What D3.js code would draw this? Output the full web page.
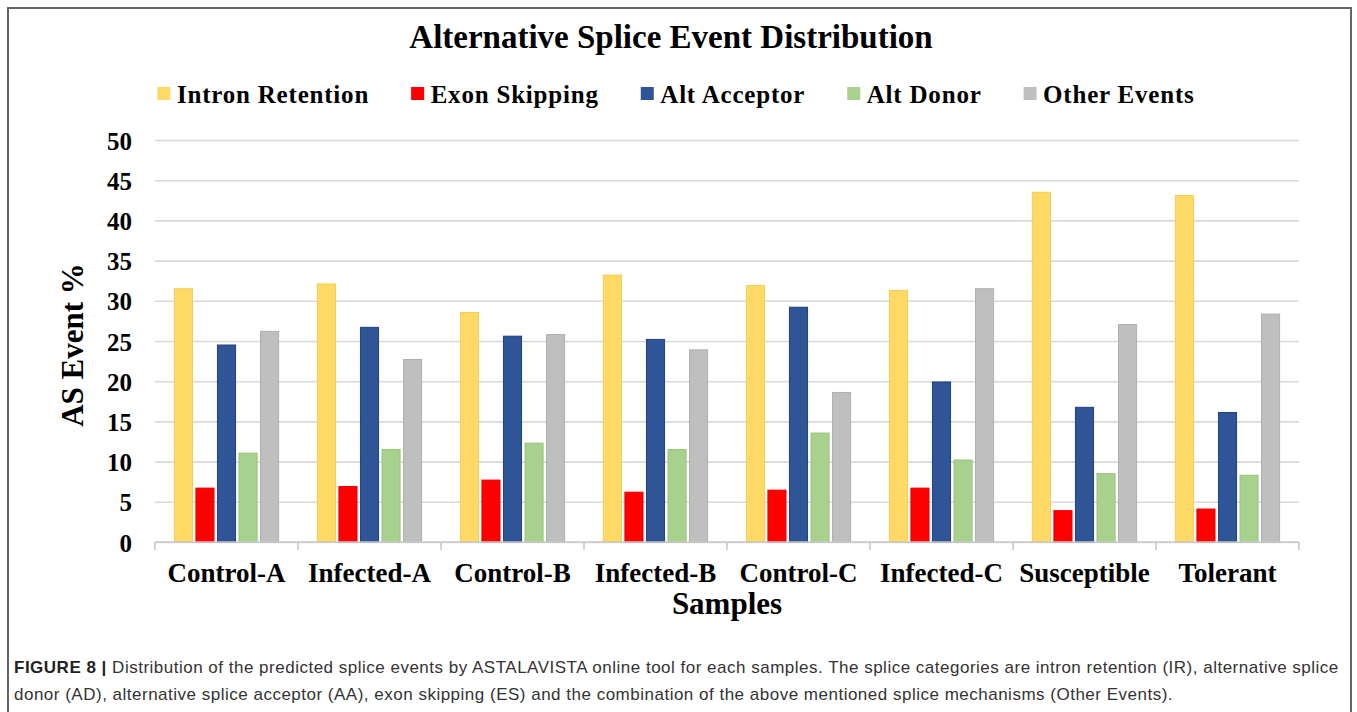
<!DOCTYPE html>
<html>
<head>
<meta charset="utf-8">
<script src="https://cdn.jsdelivr.net/npm/d3@7"></script>
<style>
  body { margin: 0; background: #fff; }
  svg { display: block; }
</style>
</head>
<body>
<svg id="chart" width="1357" height="712"></svg>
<script>
"use strict";

// sample groups on the x axis
const samples = ["Control-A", "Infected-A", "Control-B", "Infected-B",
                 "Control-C", "Infected-C", "Susceptible", "Tolerant"];

// splice event categories (legend order)
const eventTypes = ["Intron Retention", "Exon Skipping", "Alt Acceptor", "Alt Donor", "Other Events"];

// values (AS event %)
const intronRetention = [31.5, 32.1, 28.55, 33.2, 31.9, 31.3, 43.5, 43.1];
const exonSkipping    = [6.7, 6.9, 7.7, 6.2, 6.45, 6.7, 3.9, 4.1];
const altAcceptor     = [24.5, 26.7, 25.6, 25.2, 29.2, 19.9, 16.75, 16.1];
const altDonor        = [11.05, 11.5, 12.3, 11.5, 13.55, 10.2, 8.5, 8.3];
const otherEvents     = [26.2, 22.7, 25.8, 23.9, 18.6, 31.5, 27.05, 28.35];

const yTicks = [0, 5, 10, 15, 20, 25, 30, 35, 40, 45, 50];

const seriesValues = [intronRetention, exonSkipping, altAcceptor, altDonor, otherEvents];
const colors  = ["#FFD966", "#FF0000", "#2F5597", "#A9D18E", "#BFBFBF"];
const strokes = ["#F5CC55", "#E80000", "#1F3F80", "#98C47C", "#AFAFAF"];

const serif = "'Liberation Serif', 'Times New Roman', serif";

const svg = d3.select("#chart");

// frame around the figure (open at the bottom)
svg.append("path")
    .attr("d", "M8,712 V8 H1351 V712")
    .attr("fill", "none")
    .attr("stroke", "#666")
    .attr("stroke-width", 2);

// plot area
const margin = {left: 155, right: 1299, top: 140, bottom: 542};

const x0 = d3.scaleBand()
    .domain(samples)
    .range([margin.left, margin.right])
    .padding(0);

const x1 = d3.scaleBand()
    .domain(eventTypes)
    .range([0, x0.bandwidth()])
    .paddingInner(0.16)
    .paddingOuter(0.9);

const y = d3.scaleLinear()
    .domain([0, 50])
    .range([margin.bottom, margin.top]);

// gridlines + y labels
const yAxis = svg.append("g")
    .attr("transform", "translate(" + margin.left + ",0)")
    .call(d3.axisLeft(y).tickValues(yTicks).tickSize(-(margin.right - margin.left)).tickPadding(23));
yAxis.select(".domain").remove();
yAxis.selectAll(".tick line")
    .attr("stroke", "#d9d9d9")
    .attr("stroke-width", 1.6);
yAxis.selectAll(".tick text")
    .attr("font-family", serif)
    .attr("font-weight", "bold")
    .attr("font-size", 25)
    .attr("fill", "#000")
    .attr("dy", "0.36em");

// bars
const rows = samples.map((s, i) => ({
    sample: s,
    values: eventTypes.map((t, j) => ({type: t, idx: j, value: seriesValues[j][i]}))
}));

const groups = svg.append("g")
    .selectAll("g")
    .data(rows)
    .enter()
    .append("g")
    .attr("transform", d => "translate(" + x0(d.sample) + ",0)");

groups.selectAll("rect")
    .data(d => d.values)
    .enter()
    .append("rect")
    .attr("x", d => x1(d.type))
    .attr("y", d => y(d.value))
    .attr("width", x1.bandwidth())
    .attr("height", d => y(0) - y(d.value))
    .attr("fill", d => colors[d.idx])
    .attr("stroke", d => strokes[d.idx])
    .attr("stroke-width", 1);

// x axis with category boundary ticks
const xAxisG = svg.append("g")
    .attr("transform", "translate(0," + margin.bottom + ")");
xAxisG.append("line")
    .attr("x1", margin.left).attr("x2", margin.right)
    .attr("stroke", "#c8c8c8").attr("stroke-width", 1.6);
const boundaries = samples.map(s => x0(s)).concat([margin.right]);
xAxisG.selectAll(".bt")
    .data(boundaries)
    .enter()
    .append("line")
    .attr("x1", d => d).attr("x2", d => d)
    .attr("y1", 0).attr("y2", 8)
    .attr("stroke", "#c8c8c8").attr("stroke-width", 1.6);
xAxisG.selectAll(".cl")
    .data(samples)
    .enter()
    .append("text")
    .attr("x", d => x0(d) + x0.bandwidth() / 2)
    .attr("y", 40)
    .attr("text-anchor", "middle")
    .attr("font-family", serif)
    .attr("font-weight", "bold")
    .attr("font-size", 27)
    .text(d => d);

// axis titles
svg.append("text")
    .attr("x", (margin.left + margin.right) / 2)
    .attr("y", 614)
    .attr("text-anchor", "middle")
    .attr("font-family", serif)
    .attr("font-weight", "bold")
    .attr("font-size", 31)
    .text("Samples");

svg.append("text")
    .attr("transform", "translate(83," + ((margin.top + margin.bottom) / 2 + 4) + ") rotate(-90)")
    .attr("text-anchor", "middle")
    .attr("font-family", serif)
    .attr("font-weight", "bold")
    .attr("font-size", 31)
    .text("AS Event %");

// title
svg.append("text")
    .attr("x", 671)
    .attr("y", 48)
    .attr("text-anchor", "middle")
    .attr("font-family", serif)
    .attr("font-weight", "bold")
    .attr("font-size", 33)
    .text("Alternative Splice Event Distribution");

// legend, laid out from measured text widths
const legend = svg.append("g");
const items = legend.selectAll("g")
    .data(eventTypes)
    .enter()
    .append("g");
items.append("rect")
    .attr("y", 87)
    .attr("width", 13)
    .attr("height", 13)
    .attr("fill", (d, i) => colors[i]);
items.append("text")
    .attr("x", 19.5)
    .attr("y", 103)
    .attr("font-family", serif)
    .attr("font-weight", "bold")
    .attr("font-size", 25)
    .attr("letter-spacing", 0.8)
    .text(d => d);

var cursor = 0;
items.each(function() {
    const g = d3.select(this);
    g.attr("transform", "translate(" + cursor + ",0)");
    cursor += 19.5 + g.select("text").node().getComputedTextLength() + 42;
});
const legendWidth = cursor - 42;
legend.attr("transform", "translate(" + (676 - legendWidth / 2) + ",0)");

// caption
const caption = svg.append("text")
    .attr("font-family", "'Liberation Sans', Arial, sans-serif")
    .attr("font-size", 17)
    .attr("letter-spacing", 0.5)
    .attr("fill", "#333");
const line1 = caption.append("tspan").attr("x", 14).attr("y", 673);
line1.append("tspan").attr("font-weight", "bold").attr("fill", "#222").text("FIGURE 8 | ");
line1.append("tspan").text("Distribution of the predicted splice events by ASTALAVISTA online tool for each samples. The splice categories are intron retention (IR), alternative splice");
caption.append("tspan").attr("x", 14).attr("y", 700)
    .text("donor (AD), alternative splice acceptor (AA), exon skipping (ES) and the combination of the above mentioned splice mechanisms (Other Events).");
</script>
</body>
</html>
